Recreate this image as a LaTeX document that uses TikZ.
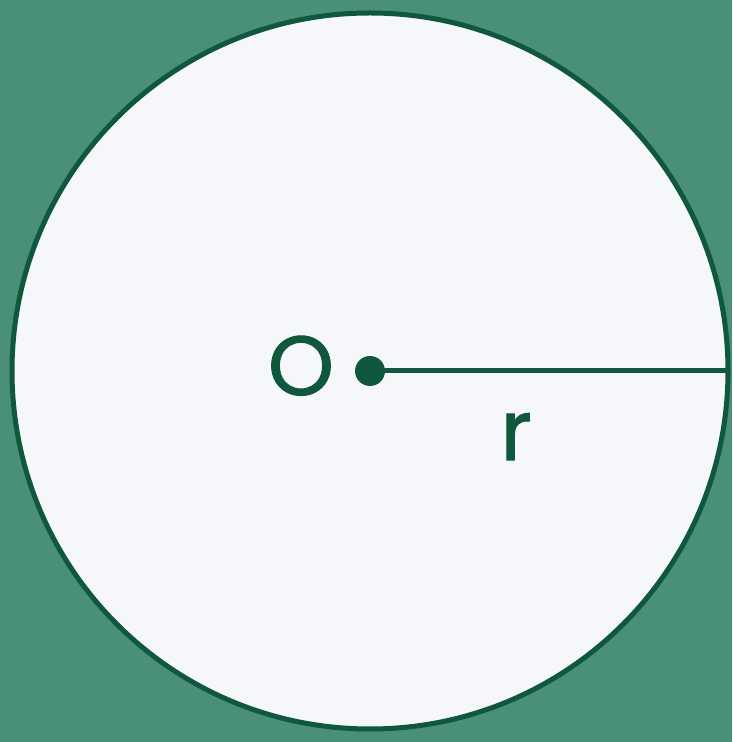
\documentclass[tikz,border=0pt]{standalone}
\usepackage{fontspec}
\setmainfont{Poppins}[FakeBold=1.2]
\definecolor{bg}{HTML}{4A8F78}
\definecolor{ink}{HTML}{0F573D}
\definecolor{paper}{HTML}{F6F7FA}
\begin{document}
\begin{tikzpicture}[x=1pt,y=1pt,
  lbl/.style={text=ink,inner sep=0pt,font=\fontsize{84}{84}\selectfont}]
\fill[bg] (0,0) rectangle (732,742);
\useasboundingbox (0,0) rectangle (732,742);
\coordinate (c) at (370,371);
\draw[ink,fill=paper,line width=5pt] (c) circle[radius=358];
\coordinate (e) at (728,371);
\fill[ink] (c) circle[radius=15];
\node[coordinate] (o) at (c) {};
\draw[ink,line width=5pt] (o) -- (e);
\node[lbl,anchor=base] (O) at (301,347) {O};
\node[lbl,anchor=base] (r) at (516,282) {r};
\end{tikzpicture}
\end{document}
